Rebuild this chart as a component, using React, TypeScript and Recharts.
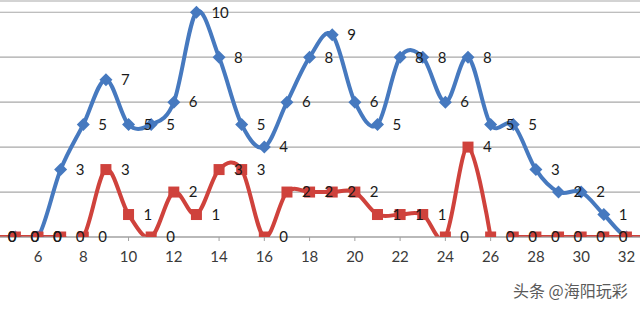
import React from 'react';
import { LineChart, Line, XAxis, YAxis, CartesianGrid, LabelList } from 'recharts';

const categories = [4, 5, 6, 7, 8, 9, 10, 11, 12, 13, 14, 15, 16, 17, 18, 19, 20, 21, 22, 23, 24, 25, 26, 27, 28, 29, 30, 31, 32, 33];
const blueValues = [0, 0, 0, 3, 5, 7, 5, 5, 6, 10, 8, 5, 4, 6, 8, 9, 6, 5, 8, 8, 6, 8, 5, 5, 3, 2, 2, 1, 0, 0];
const redValues = [0, 0, 0, 0, 0, 3, 1, 0, 2, 1, 3, 3, 0, 2, 2, 2, 2, 1, 1, 1, 0, 4, 0, 0, 0, 0, 0, 0, 0, 0];
// the red line is broken between 26 and 27 in the reference
const redBreakAfter = 26;
const xTicks = [6, 8, 10, 12, 14, 16, 18, 20, 22, 24, 26, 28, 30, 32];
const yTicks = [0, 1, 2, 3, 4, 5, 6, 7, 8, 9, 10];
const xDomain: [number, number] = [4.32, 32.6];
// labels of later points fall beyond the right edge of the picture
const lastLabeledX = 31;

const data = categories.map((x, i) => ({
  x,
  blue: blueValues[i],
  redA: x <= redBreakAfter ? redValues[i] : null,
  redB: x > redBreakAfter ? redValues[i] : null,
}));

const BLUE = '#4679bf';
const RED = '#cf423c';

// Catmull-Rom style curve (like Excel's smoothed line)
function smoothCurve(context: any) {
  const k = 1 / 6;
  let x0 = NaN, y0 = NaN, x1 = NaN, y1 = NaN, x2 = NaN, y2 = NaN;
  let pt = 0;
  let line: number = NaN;
  const seg = (x: number, y: number) => {
    context.bezierCurveTo(
      x1 + k * (x2 - x0),
      y1 + k * (y2 - y0),
      x2 + k * (x1 - x),
      y2 + k * (y1 - y),
      x2,
      y2
    );
  };
  return {
    areaStart() { line = 0; },
    areaEnd() { line = NaN; },
    lineStart() { x0 = x1 = x2 = y0 = y1 = y2 = NaN; pt = 0; },
    lineEnd() {
      if (pt === 2) context.lineTo(x2, y2);
      else if (pt === 3) seg(x1, y1);
      if (line || (line !== 0 && pt === 1)) context.closePath();
      line = 1 - line;
    },
    point(x: number, y: number) {
      x = +x; y = +y;
      if (pt === 0) {
        pt = 1;
        if (line) context.lineTo(x, y); else context.moveTo(x, y);
      } else if (pt === 1) {
        pt = 2; x1 = x; y1 = y;
      } else {
        if (pt === 2) pt = 3;
        seg(x, y);
      }
      x0 = x1; x1 = x2; x2 = x;
      y0 = y1; y1 = y2; y2 = y;
    },
  };
}

const Diamond = (props: any) => {
  const { cx, cy, value } = props;
  if (cx == null || cy == null || value == null) return <g key={props.key} />;
  const r = 6.5;
  return (
    <polygon
      key={props.key}
      points={`${cx},${cy - r} ${cx + r},${cy} ${cx},${cy + r} ${cx - r},${cy}`}
      fill={BLUE}
    />
  );
};

const Square = (props: any) => {
  const { cx, cy, value } = props;
  if (cx == null || cy == null || value == null) return <g key={props.key} />;
  const s = 11;
  return <rect key={props.key} x={cx - s / 2} y={cy - s / 2} width={s} height={s} fill={RED} />;
};

const labelStyle = { fontFamily: 'Lato, "Liberation Sans", sans-serif', fontSize: 15, fill: '#1a1a1a' };

const visibleValue = (key: string) => (entry: any) => {
  const p = entry && entry.payload;
  if (!p || p.x > lastLabeledX) return null;
  return p[key];
};

export default function App() {
  return (
    <div style={{ position: 'absolute', left: 0, top: 0, width: 640, height: 309, background: '#ffffff', overflow: 'hidden' }}>
      <LineChart width={640} height={309} data={data} margin={{ top: 1, right: 0, left: 0, bottom: 42 }}>
        <CartesianGrid vertical={false} stroke="#a8a8a8" strokeWidth={1.2} />
        <XAxis
          dataKey="x"
          type="number"
          domain={xDomain}
          allowDataOverflow
          ticks={xTicks}
          interval={0}
          height={30}
          axisLine={{ stroke: '#a0a0a0', strokeWidth: 1.2 }}
          tickLine={{ stroke: '#a0a0a0' }}
          tickSize={4}
          tickMargin={10}
          tick={{ fontFamily: 'Lato, "Liberation Sans", sans-serif', fontSize: 15, fill: '#3a3a3a' }}
        />
        <YAxis hide domain={[0, 10.5]} ticks={yTicks} allowDataOverflow />
        <Line
          dataKey="blue"
          type={smoothCurve as any}
          stroke={BLUE}
          strokeWidth={4}
          dot={Diamond}
          activeDot={false}
          isAnimationActive={false}
        >
          <LabelList valueAccessor={visibleValue('blue')} position="right" offset={15} style={labelStyle} />
        </Line>
        <Line
          dataKey="redA"
          type={smoothCurve as any}
          stroke={RED}
          strokeWidth={4}
          dot={Square}
          activeDot={false}
          isAnimationActive={false}
        >
          <LabelList valueAccessor={visibleValue('redA')} position="right" offset={15} style={labelStyle} />
        </Line>
        <Line
          dataKey="redB"
          type={smoothCurve as any}
          stroke={RED}
          strokeWidth={4}
          dot={Square}
          activeDot={false}
          isAnimationActive={false}
        >
          <LabelList valueAccessor={visibleValue('redB')} position="right" offset={15} style={labelStyle} />
        </Line>
      </LineChart>
      <div
        style={{
          position: 'absolute',
          left: 513,
          top: 280,
          fontFamily: '"Noto Sans CJK SC", sans-serif',
          fontSize: 16,
          color: '#5a5a5a',
          whiteSpace: 'nowrap',
          lineHeight: '20px',
        }}
      >
        头条 @海阳玩彩
      </div>
    </div>
  );
}
